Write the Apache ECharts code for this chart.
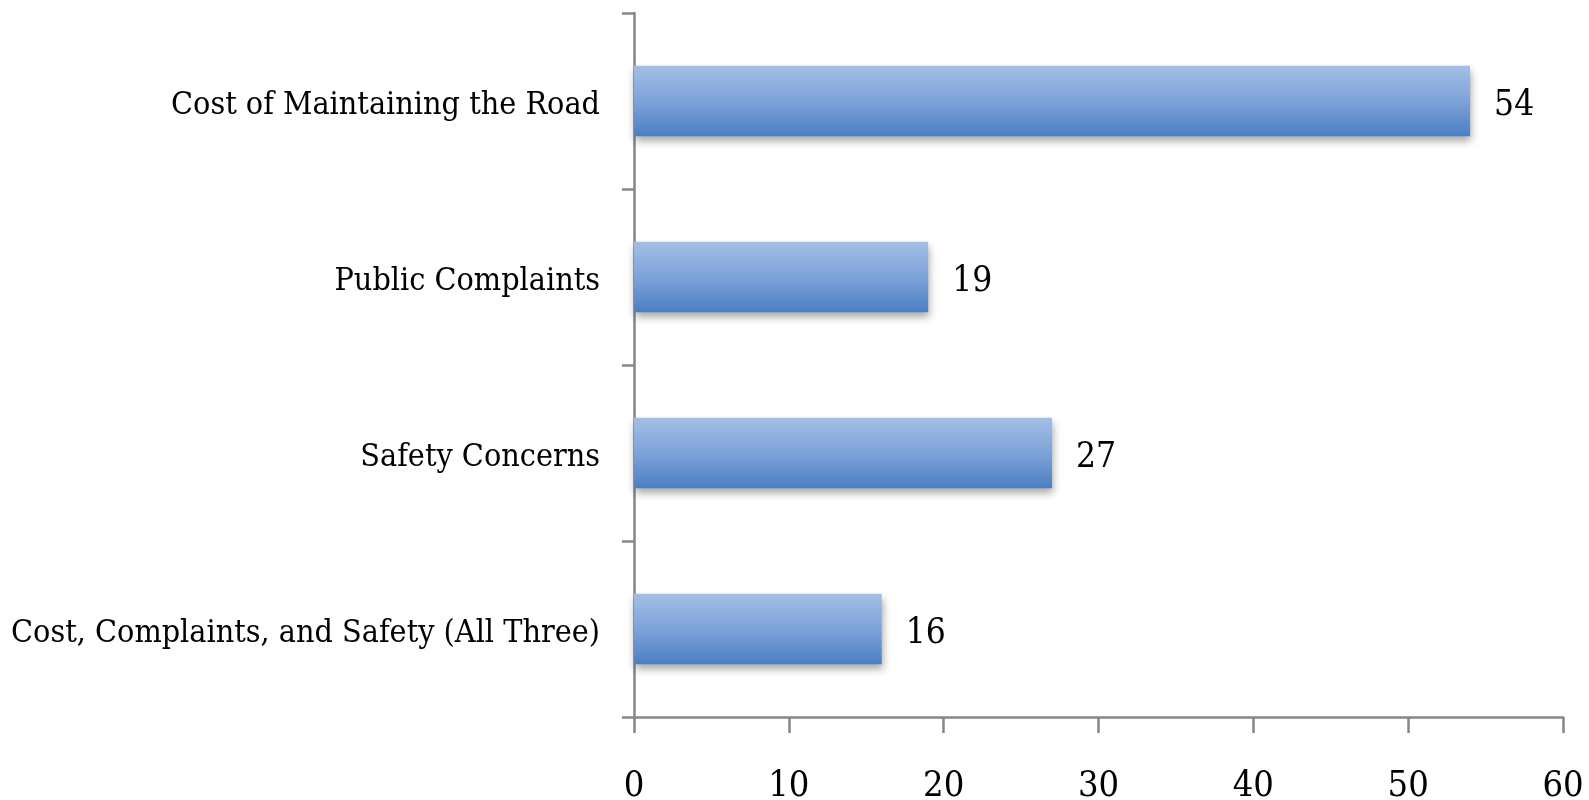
<!DOCTYPE html>
<html>
<head>
<meta charset="utf-8">
<script src="https://cdn.jsdelivr.net/npm/echarts@6/dist/echarts.min.js"></script>
<style>
html,body{margin:0;padding:0;background:#fff;}
#chart{width:1589px;height:800px;}
</style>
</head>
<body>
<div id="chart"></div>
<script>
const categories = [
  "Cost of Maintaining the Road",
  "Public Complaints",
  "Safety Concerns",
  "Cost, Complaints, and Safety (All Three)"
];
const values = [54, 19, 27, 16];
const xTicks = { min: 0, max: 60, interval: 10 };

const FONT = '"DejaVu Serif Condensed", "Liberation Sans Narrow", "Liberation Serif", serif';
const chart = echarts.init(document.getElementById('chart'), null, {renderer: 'canvas'});
chart.setOption({
  animation: false,
  backgroundColor: '#ffffff',
  grid: { left: 634, right: 26, top: 13, bottom: 83, containLabel: false, outerBoundsMode: 'none' },
  xAxis: {
    type: 'value',
    min: xTicks.min, max: xTicks.max, interval: xTicks.interval,
    axisLine: { show: true, lineStyle: { color: '#868686', width: 2.5 } },
    axisTick: { show: true, length: 16, lineStyle: { color: '#868686', width: 2.5 } },
    splitLine: { show: false },
    axisLabel: { fontFamily: FONT, fontSize: 36, color: '#000', margin: 52 }
  },
  yAxis: {
    type: 'category',
    data: categories,
    inverse: true,
    axisLine: { show: true, lineStyle: { color: '#868686', width: 2.5 } },
    axisTick: { show: true, length: 12, alignWithLabel: false, lineStyle: { color: '#868686', width: 2.5 } },
    splitLine: { show: false },
    axisLabel: {
      fontFamily: FONT, fontSize: 32, color: '#000', margin: 34,
      formatter: function (v) { return '{a|' + v + '}'; },
      rich: { a: { fontFamily: FONT, fontSize: 32, color: '#000', padding: [10, 0, 0, 0] } }
    }
  },
  series: [{
    type: 'bar',
    data: values,
    barWidth: '40%',
    itemStyle: {
      color: new echarts.graphic.LinearGradient(0, 0, 0, 1, [
        { offset: 0, color: '#a3bfe6' },
        { offset: 0.5, color: '#7ea3d8' },
        { offset: 1, color: '#4a7fc4' }
      ]),
      shadowColor: 'rgba(0,0,0,0.35)',
      shadowBlur: 8,
      shadowOffsetY: 5,
      shadowOffsetX: 1
    },
    label: {
      show: true,
      position: 'right',
      distance: 24,
      offset: [0, 5],
      fontFamily: FONT,
      fontSize: 35,
      color: '#000'
    }
  }]
});
</script>
</body>
</html>
